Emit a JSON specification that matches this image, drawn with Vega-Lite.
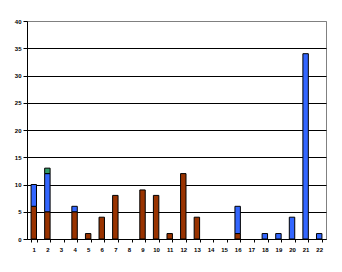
{
  "$schema": "https://vega.github.io/schema/vega-lite/v6.json",
  "width": 299,
  "height": 218,
  "autosize": {"type": "none"},
  "padding": {"left": 27, "top": 21, "right": 16, "bottom": 33},
  "background": "white",
  "config": {
    "view": {"stroke": "#808080", "strokeWidth": 1},
    "axis": {"labelFont": "Liberation Sans", "labelFontSize": 6, "labelFontWeight": "bold", "labelColor": "black", "domainColor": "black", "tickColor": "black", "titleFontSize": 0}
  },
  "data": {
    "values": [
      {"cat": 1, "series": "A", "ord": 1, "value": 6},
      {"cat": 1, "series": "B", "ord": 2, "value": 4},
      {"cat": 2, "series": "A", "ord": 1, "value": 5},
      {"cat": 2, "series": "B", "ord": 2, "value": 7},
      {"cat": 2, "series": "C", "ord": 3, "value": 1},
      {"cat": 4, "series": "A", "ord": 1, "value": 5},
      {"cat": 4, "series": "B", "ord": 2, "value": 1},
      {"cat": 5, "series": "A", "ord": 1, "value": 1},
      {"cat": 6, "series": "A", "ord": 1, "value": 4},
      {"cat": 7, "series": "A", "ord": 1, "value": 8},
      {"cat": 9, "series": "A", "ord": 1, "value": 9},
      {"cat": 10, "series": "A", "ord": 1, "value": 8},
      {"cat": 11, "series": "A", "ord": 1, "value": 1},
      {"cat": 12, "series": "A", "ord": 1, "value": 12},
      {"cat": 13, "series": "A", "ord": 1, "value": 4},
      {"cat": 16, "series": "A", "ord": 1, "value": 1},
      {"cat": 16, "series": "B", "ord": 2, "value": 5},
      {"cat": 18, "series": "B", "ord": 2, "value": 1},
      {"cat": 19, "series": "B", "ord": 2, "value": 1},
      {"cat": 20, "series": "B", "ord": 2, "value": 4},
      {"cat": 21, "series": "B", "ord": 2, "value": 34},
      {"cat": 22, "series": "B", "ord": 2, "value": 1}
    ]
  },
  "mark": {"type": "bar", "stroke": "black", "strokeWidth": 1},
  "encoding": {
    "x": {
      "field": "cat",
      "type": "ordinal",
      "title": null,
      "scale": {"domain": [1,2,3,4,5,6,7,8,9,10,11,12,13,14,15,16,17,18,19,20,21,22], "paddingInner": 0.6, "paddingOuter": 0.3},
      "axis": {"labelAngle": 0, "tickBand": "extent", "tickSize": 3, "labelPadding": 4, "domainColor": "black"}
    },
    "y": {
      "field": "value",
      "type": "quantitative",
      "aggregate": "sum",
      "stack": "zero",
      "title": null,
      "scale": {"domain": [0, 40], "nice": false},
      "axis": {
        "values": [0,5,10,15,20,25,30,35,40],
        "tickSize": 4,
        "labelPadding": 2,
        "grid": true,
        "gridColor": {"condition": {"test": "datum.value === 40", "value": "#808080"}, "value": "black"},
        "gridOpacity": 1
      }
    },
    "color": {
      "field": "series",
      "type": "nominal",
      "scale": {"domain": ["A", "B", "C"], "range": ["#993300", "#3366FF", "#339966"]},
      "legend": null
    },
    "order": {"field": "ord", "type": "quantitative"}
  }
}
